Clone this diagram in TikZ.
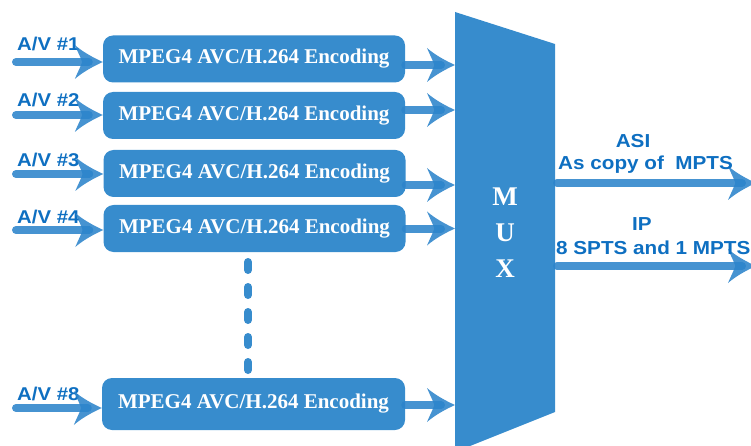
\documentclass[tikz,border=0pt]{standalone}
\usepackage{fontspec}
\setmainfont{Liberation Serif}
\newfontfamily\labfont[FakeStretch=1.1]{Liberation Sans}
\usetikzlibrary{arrows.meta}
\definecolor{boxblue}{HTML}{378CCD}
\definecolor{lineblue}{HTML}{2C84CB}
\definecolor{textblue}{HTML}{0E6FC1}
\pgfdeclarearrow{
  name=SweptHead,
  defaults={length=28pt, width=32pt},
  parameters={\the\pgfarrowlength,\the\pgfarrowwidth},
  setup code={
    \pgfarrowssettipend{0pt}
    \pgfarrowssetbackend{-\pgfarrowlength}
    \pgfarrowssetvisualbackend{-\pgfarrowlength}
    \pgfarrowssetlineend{-.5\pgfarrowlength}
    \pgfarrowshullpoint{0pt}{0pt}
    \pgfarrowsupperhullpoint{-\pgfarrowlength}{.5\pgfarrowwidth}
    \pgfarrowssavethe\pgfarrowlength
    \pgfarrowssavethe\pgfarrowwidth
  },
  drawing code={
    \pgfpathmoveto{\pgfqpoint{0pt}{0pt}}
    \pgfpathcurveto{\pgfqpoint{-.35\pgfarrowlength}{.13\pgfarrowwidth}}{\pgfqpoint{-.72\pgfarrowlength}{.3\pgfarrowwidth}}{\pgfqpoint{-\pgfarrowlength}{.5\pgfarrowwidth}}
    \pgfpathcurveto{\pgfqpoint{-.9\pgfarrowlength}{.3\pgfarrowwidth}}{\pgfqpoint{-.78\pgfarrowlength}{.12\pgfarrowwidth}}{\pgfqpoint{-.74\pgfarrowlength}{0pt}}
    \pgfpathcurveto{\pgfqpoint{-.78\pgfarrowlength}{-.12\pgfarrowwidth}}{\pgfqpoint{-.9\pgfarrowlength}{-.3\pgfarrowwidth}}{\pgfqpoint{-\pgfarrowlength}{-.5\pgfarrowwidth}}
    \pgfpathcurveto{\pgfqpoint{-.72\pgfarrowlength}{-.3\pgfarrowwidth}}{\pgfqpoint{-.35\pgfarrowlength}{-.13\pgfarrowwidth}}{\pgfqpoint{0pt}{0pt}}
    \pgfpathclose
    \pgfusepathqfill
  }
}
\begin{document}
\begin{tikzpicture}[x=1pt,y=-1pt,
  enc/.style={fill=boxblue, rounded corners=10pt, minimum width=302pt, minimum height=47pt,
    text=white, font=\fontsize{21}{24}\selectfont\bfseries, inner sep=0pt},
  flow/.style={draw=lineblue, line width=8pt, line cap=round, opacity=0.88,
    -{SweptHead[length=28pt,width=34pt]}},
  avlab/.style={text=textblue, font=\labfont\fontsize{18.5}{20}\selectfont\bfseries, inner sep=0pt},
  outlab/.style={text=textblue, font=\labfont\fontsize{18.8}{21}\selectfont\bfseries, inner sep=0pt},
  muxlet/.style={text=white, font=\fontsize{27}{30}\selectfont\bfseries, inner sep=0pt, anchor=base},
  dotline/.style={draw=boxblue, line width=8pt, line cap=round, dash pattern=on 8pt off 17pt}
]
\useasboundingbox (0,0) rectangle (751,446);

% MUX
\fill[boxblue] (455,12) -- (555,44) -- (555,412) -- (455,452) -- cycle;
\coordinate (muxL) at (455,0);
\node[muxlet] (mM) at (505,205) {M};
\node[muxlet] (mU) at (505,241) {U};
\node[muxlet] (mX) at (505,277) {X};

% encoders
\node[enc] (b1) at (254,59) {MPEG4 AVC/H.264 Encoding};
\node[enc] (b2) at (254,115.5) {MPEG4 AVC/H.264 Encoding};
\node[enc] (b3) at (254.5,173.5) {MPEG4 AVC/H.264 Encoding};
\node[enc] (b4) at (254.5,228.5) {MPEG4 AVC/H.264 Encoding};
\node[enc, minimum height=52pt, minimum width=303pt] (b8) at (253.5,404) {MPEG4 AVC/H.264 Encoding};

% dots
\coordinate (d1) at (248,262);
\coordinate (d2) at (248,370);
\draw[dotline] (d1) -- (d2);

% input labels
\node[avlab, anchor=base west] (l1) at (17,51) {A/V \#1};
\node[avlab, anchor=base west] (l2) at (17,107) {A/V \#2};
\node[avlab, anchor=base west] (l3) at (17,167) {A/V \#3};
\node[avlab, anchor=base west] (l4) at (17,223) {A/V \#4};
\node[avlab, anchor=base west] (l8) at (17,400) {A/V \#8};

% input arrows
\coordinate (i1) at (16,62);
\coordinate (i2) at (16,115);
\coordinate (i3) at (16,174);
\coordinate (i4) at (16,230);
\coordinate (i8) at (16,408);
\draw[flow] (i1) -- (i1 -| b1.west);
\draw[flow] (i2) -- (i2 -| b2.west);
\draw[flow] (i3) -- (i3 -| b3.west);
\draw[flow] (i4) -- (i4 -| b4.west);
\draw[flow] (i8) -- (i8 -| b8.west);

% encoder to mux arrows
\draw[flow] ([yshift=-6pt]b1.east) -- ([yshift=-6pt]b1.east -| muxL);
\draw[flow] ([yshift=5.5pt]b2.east) -- ([yshift=5.5pt]b2.east -| muxL);
\draw[flow] ([yshift=-11.5pt]b3.east) -- ([yshift=-11.5pt]b3.east -| muxL);
\draw[flow] (b4.east) -- (b4.east -| muxL);
\draw[flow] ([yshift=-1pt]b8.east) -- ([yshift=-1pt]b8.east -| muxL);

% outputs
\coordinate (asiS) at (557,183);
\coordinate (asiE) at (756,183);
\coordinate (ipS) at (557,266);
\coordinate (ipE) at (756,266);
\draw[flow] (asiS) -- (asiE);
\draw[flow] (ipS) -- (ipE);

\node[outlab, anchor=base] (asi) at (633,148) {ASI};
\node[outlab, anchor=base west] (asi2) at (558,170) {As copy of\ \ MPTS};
\node[outlab, anchor=base] (ip) at (642,230) {IP};
\node[outlab, anchor=base west] (ip2) at (556,254) {8 SPTS and 1 MPTS};
\end{tikzpicture}
\end{document}
